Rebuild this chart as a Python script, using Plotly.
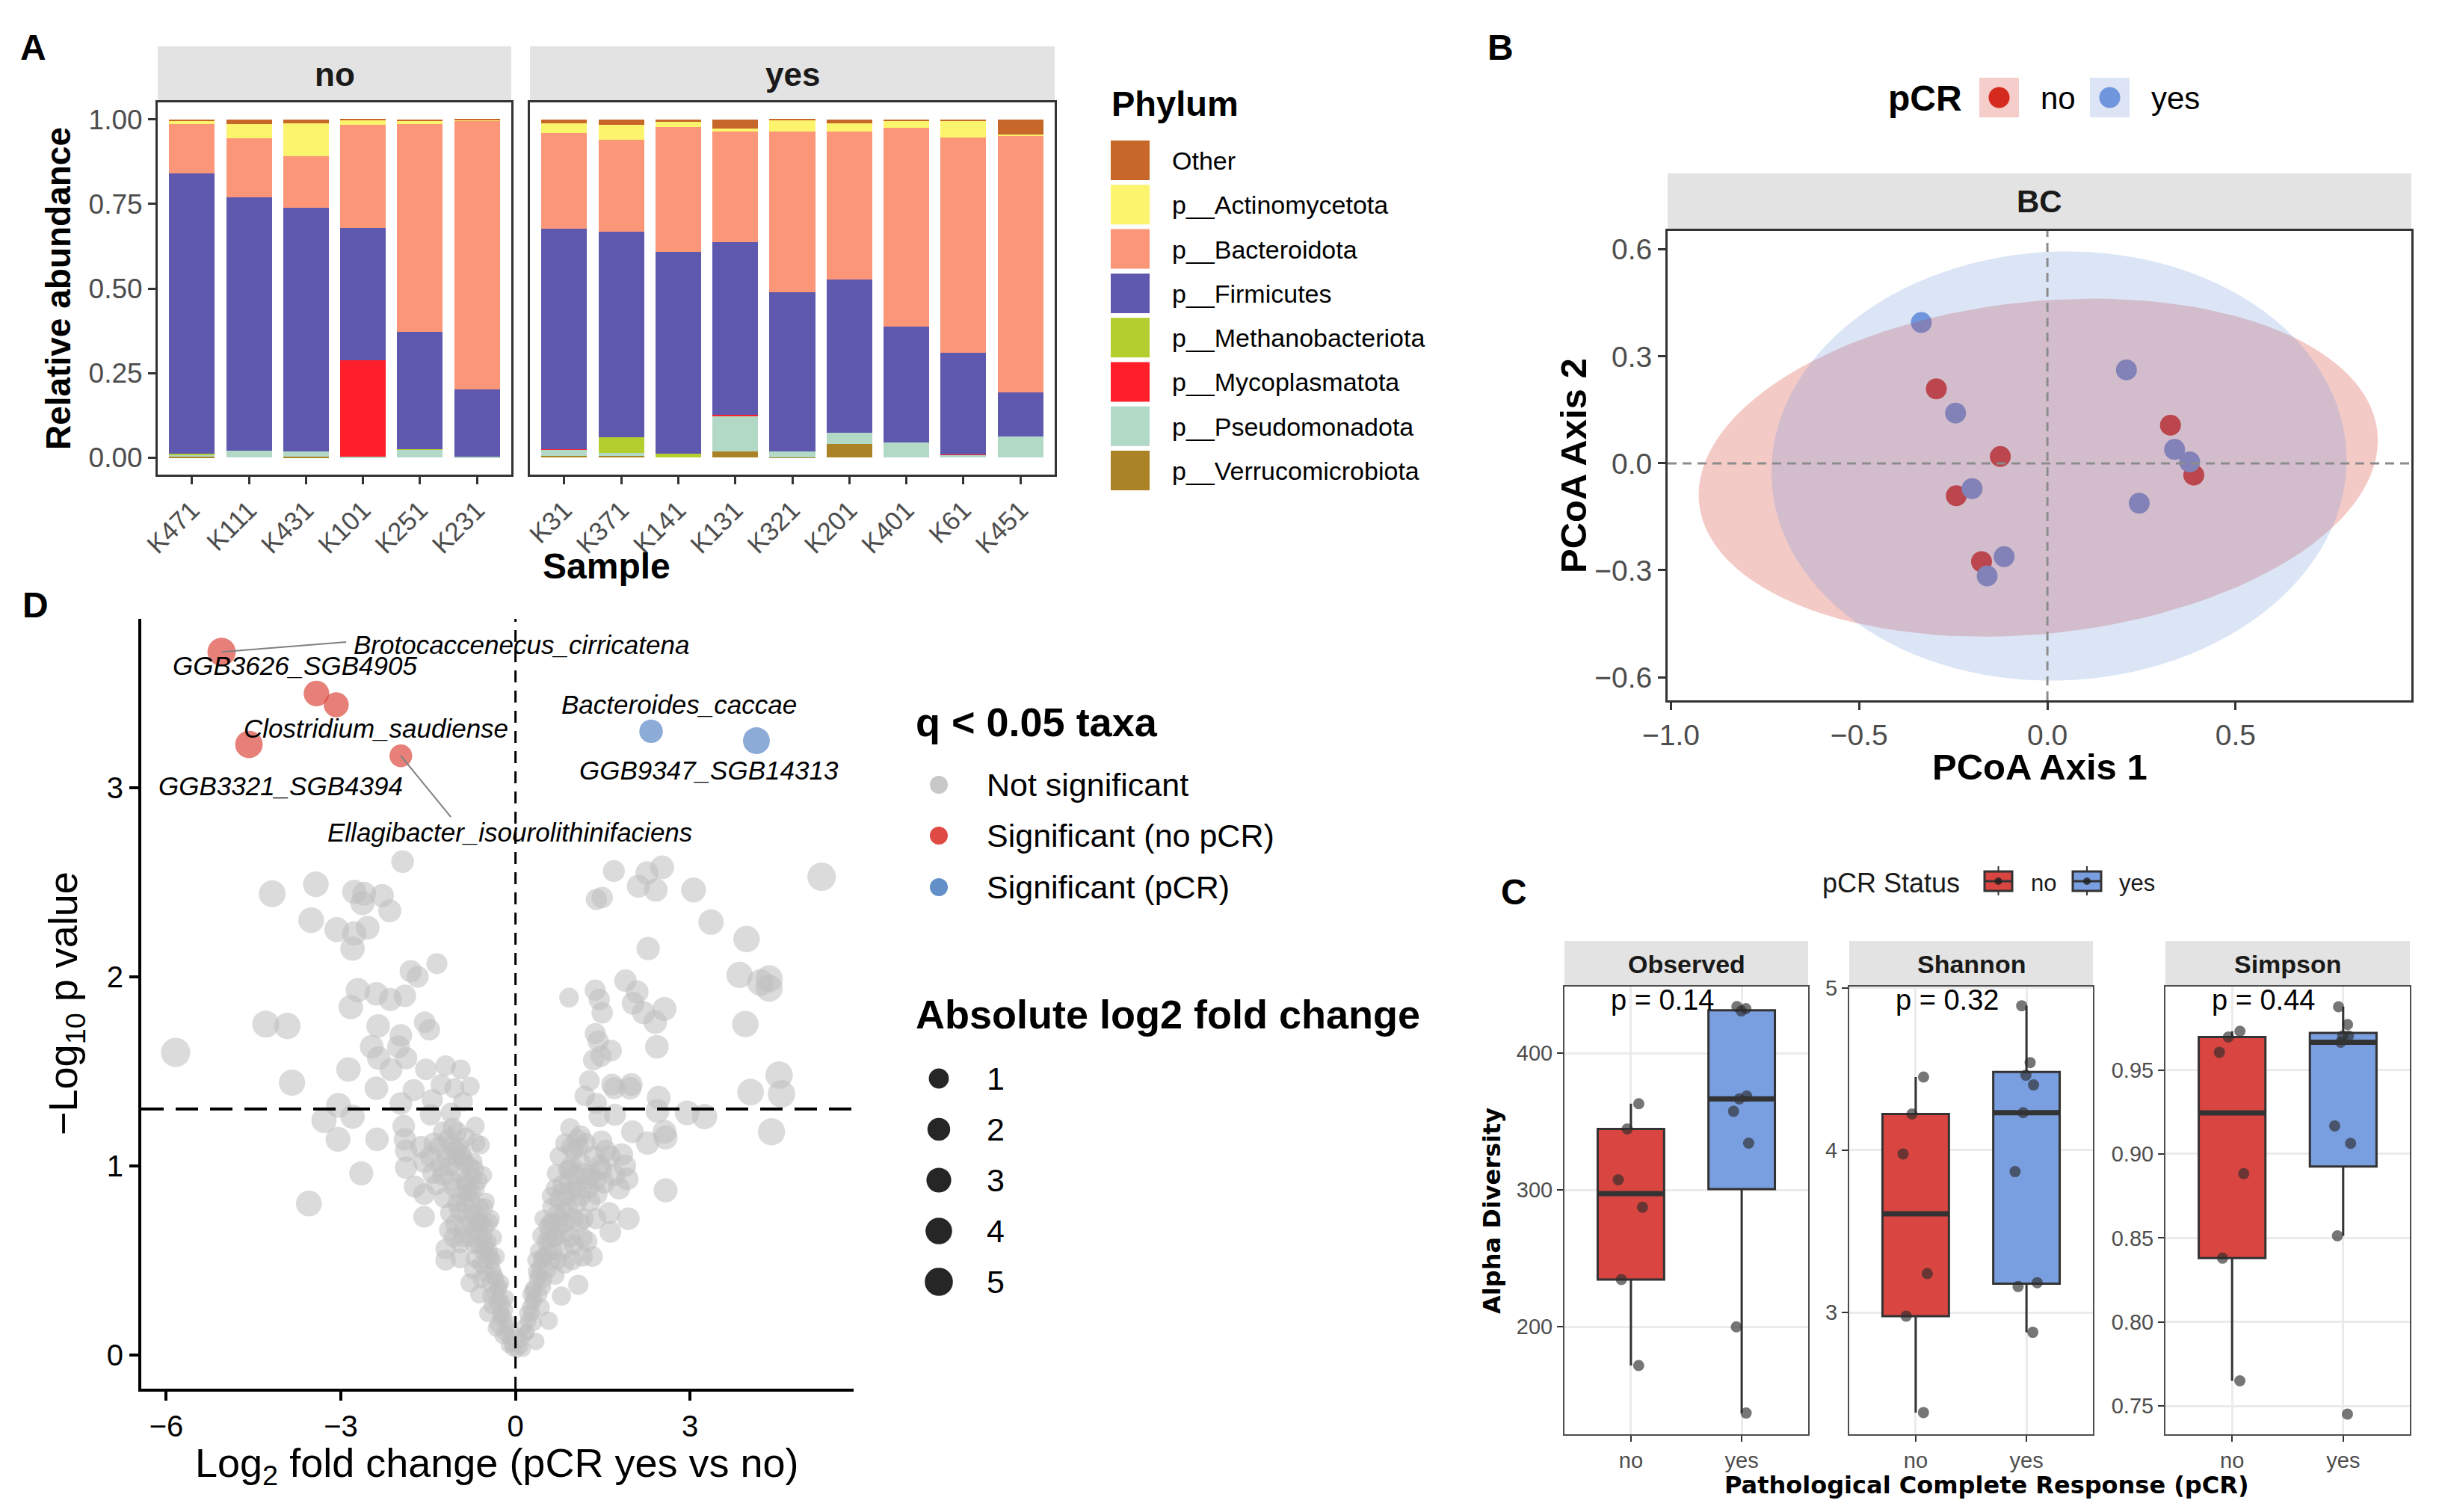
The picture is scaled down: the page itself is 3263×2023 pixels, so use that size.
import numpy as np
import plotly.graph_objects as go

W, H = 3263, 2023
SANS = "Liberation Sans, Arial, Helvetica, sans-serif"
NARROW = "Liberation Sans Narrow, Arial Narrow, Liberation Sans, sans-serif"
WIDE = "DejaVu Sans, Verdana, sans-serif"

# ---------------- Panel A: relative abundance ----------------
samples_no = ["K471", "K111", "K431", "K101", "K251", "K231"]
samples_yes = ["K31", "K371", "K141", "K131", "K321", "K201", "K401", "K61", "K451"]
phyla = ["Other", "p__Actinomycetota", "p__Bacteroidota", "p__Firmicutes",
         "p__Methanobacteriota", "p__Mycoplasmatota", "p__Pseudomonadota", "p__Verrucomicrobiota"]
phylum_colors = ["#C8672A", "#FCF46C", "#FB9678", "#5E58AE", "#B4CE30", "#FE1F2B", "#B2D8C6", "#AA8326"]

other_no = [0.005, 0.015, 0.011, 0.003, 0.006, 0.001]
actino_no = [0.010, 0.042, 0.099, 0.014, 0.008, 0.003]
bactero_no = [0.145, 0.174, 0.151, 0.303, 0.615, 0.794]
firmic_no = [0.828, 0.748, 0.720, 0.391, 0.346, 0.199]
methano_no = [0.003, 0.000, 0.000, 0.000, 0.002, 0.000]
mycopl_no = [0.000, 0.000, 0.000, 0.286, 0.000, 0.000]
pseudo_no = [0.007, 0.021, 0.017, 0.003, 0.023, 0.003]
verruco_no = [0.002, 0.000, 0.002, 0.000, 0.000, 0.000]

other_yes = [0.011, 0.017, 0.008, 0.028, 0.001, 0.011, 0.004, 0.004, 0.045]
actino_yes = [0.030, 0.044, 0.014, 0.008, 0.036, 0.025, 0.021, 0.050, 0.005]
bactero_yes = [0.282, 0.272, 0.369, 0.326, 0.473, 0.437, 0.588, 0.636, 0.758]
firmic_yes = [0.651, 0.606, 0.598, 0.511, 0.472, 0.454, 0.342, 0.300, 0.129]
methano_yes = [0.000, 0.048, 0.011, 0.000, 0.000, 0.000, 0.000, 0.000, 0.000]
mycopl_yes = [0.002, 0.000, 0.000, 0.003, 0.000, 0.000, 0.000, 0.001, 0.000]
pseudo_yes = [0.019, 0.007, 0.000, 0.105, 0.017, 0.033, 0.045, 0.009, 0.063]
verruco_yes = [0.005, 0.006, 0.000, 0.019, 0.001, 0.040, 0.000, 0.000, 0.000]

# ---------------- Panel B: PCoA ----------------
pcoa_no_x = [-0.295, -0.125, -0.242, -0.175, 0.327, 0.389]
pcoa_no_y = [0.209, 0.019, -0.091, -0.276, 0.107, -0.033]
pcoa_yes_x = [-0.335, -0.244, -0.200, -0.115, -0.160, 0.210, 0.338, 0.378, 0.244]
pcoa_yes_y = [0.395, 0.141, -0.071, -0.262, -0.316, 0.262, 0.039, 0.004, -0.112]

# ---------------- Panel C: alpha diversity ----------------
metrics = ["Observed", "Shannon", "Simpson"]
p_labels = ["p = 0.14", "p = 0.32", "p = 0.44"]
observed_no = [363, 344.6, 307.4, 287.4, 234.5, 171.7]
observed_yes = [434, 432.5, 430.8, 368.6, 366.5, 357.5, 334.2, 200, 137]
shannon_no = [4.451, 4.223, 3.977, 3.24, 2.978, 2.384]
shannon_yes = [4.89, 4.54, 4.462, 4.402, 4.231, 3.868, 3.184, 3.16, 2.878]
simpson_no = [0.973, 0.9696, 0.9605, 0.8883, 0.838, 0.765]
simpson_yes = [0.9876, 0.977, 0.9703, 0.9703, 0.9665, 0.9167, 0.9063, 0.8513, 0.7452]

# ---------------- Panel D: volcano ----------------
gray_lfc = [
    -1.94, -4.18, -3.43, -2.77, -2.60, -2.63, -2.29, -2.16, -3.51, -3.07, -2.54, -2.77, -2.80, -1.35, -1.80,
    -1.68, -2.71, -2.39, -2.15, -1.90, -2.83, -4.29, -3.92, -5.84, -2.36, -1.56, -1.48, -1.97, -2.47, -2.01,
    -2.35, -2.14, -1.88, -2.87, -3.84, -2.39, -1.54, -1.20, -0.94, -1.75, -1.28, -1.05, -0.78, -1.97, -3.04,
    -1.43, -0.90, -3.29, -2.80, -1.46, -1.11, -0.69, -1.92,
    1.69, 2.26, 2.52, 2.11, 2.41, 3.06, 1.39, 1.49, 5.26, 3.36, 3.97, 2.28, 3.85, 4.36, 4.21, 4.36, 0.92,
    1.37, 1.44, 1.49, 1.89, 2.09, 2.02, 2.20, 2.56, 2.40, 3.95, 1.37, 1.42, 1.64, 1.34, 1.47, 2.43, 1.27,
    1.66, 1.99, 1.19, 2.46, 4.53, 4.04, 4.57, 1.39, 2.44, 2.95, 3.25, 1.71, 0.94, 4.40, 2.01, 2.56, 1.70,
    1.97, 1.44,
    -3.05, -2.38, -2.65, -0.60, -1.90, -1.88, -1.88, -1.57, -1.42, -1.73, -1.57, -1.57, -1.31, -1.09, -0.91,
    -1.13, -0.95, -0.73, -0.56, -0.69, -1.04, -1.22, -0.86, -0.51, -1.04, -0.82, -0.42, -1.20, -1.20, -0.78,
    -0.38, -0.69, -0.33, -0.78, -0.51, -0.25, -0.42, -0.16, -0.47, -0.25, -0.33, -0.16, -0.07, 0.02, -0.95,
    -0.60, -0.95, -3.55,
    1.48, 1.00, 2.27, 2.58, 1.83, 1.88, 1.92, 1.48, 1.52, 0.70, 0.92, 1.23, 0.61, 0.97, 1.28, 2.58, 0.48,
    0.84, 1.17, 1.61, 1.94, 1.63, 0.44, 0.84, 1.23, 0.57, 1.32, 0.35, 0.84, 1.08, 0.48, 0.79, 0.31, 0.44,
    0.31, 0.35, 0.17, 0.13, 0.57, 0.66, 1.00,
    -0.30, -0.40, -0.55, -0.65, -0.75, -0.85, -0.62, -0.48, -0.36, -0.22, -0.12, -0.28, -0.58, -0.70, -0.88,
    -1.00, -1.10, -0.80, -1.25, -0.68, -1.00, -0.85, -0.52, -0.90, -0.72, -1.12, -0.64, -1.40, -0.20, -0.10,
    0.25, 0.40, 0.55, 0.65, 0.75, 0.90, 1.05, 1.12, 0.80, 0.60, 0.45, 0.22, 0.10, 0.95, 1.10, 1.40, 1.35,
    1.20, 0.75, 0.85, 0.52, 0.68, 1.15, 0.38, 0.30, 1.02, 1.62, 0.20,
    -0.15, -0.18, -0.26, -0.32, -0.35, -0.44, -0.50, -0.46, -0.56, -0.62, -0.66, -0.72, -0.78, -0.82, -0.92,
    -0.96, -1.06, -1.14, -0.74, -0.88, -1.02, -1.18, -1.28, -1.36, -1.46, -1.62, -0.58, -0.40, -0.08, -0.05,
    -0.54, -0.70, -1.08, -1.24, -0.62, -0.30, -0.22, -0.12, -0.45, -0.98,
    0.08, 0.15, 0.20, 0.28, 0.32, 0.40, 0.46, 0.50, 0.58, 0.62, 0.70, 0.72, 0.78, 0.86, 0.88, 0.92, 1.00,
    1.05, 1.12, 1.18, 1.25, 1.30, 1.38, 1.45, 1.55, 0.68, 0.62, 0.55, 1.08, 0.95, 0.40, 0.26, 0.05, 1.70,
    1.78, 0.98, 0.72, 1.38, 0.84, 1.15,
    -0.34, -0.52, -0.68, -0.86, -1.02, -0.44, -0.60, -0.76, -0.94, -1.16, -0.28, -0.40,
    0.30, 0.48, 0.64, 0.80, 0.96, 1.12, 0.42, 0.58, 0.74, 0.90, 1.06, 0.36,
]
gray_nlp = [
    2.61, 2.44, 2.49, 2.45, 2.44, 2.39, 2.43, 2.35, 2.30, 2.25, 2.26, 2.23, 2.15, 2.07, 2.03,
    2.00, 1.93, 1.91, 1.88, 1.90, 1.84, 1.75, 1.74, 1.60, 1.74, 1.76, 1.72, 1.69, 1.63, 1.63,
    1.57, 1.51, 1.57, 1.51, 1.44, 1.41, 1.51, 1.53, 1.51, 1.40, 1.43, 1.41, 1.42, 1.33, 1.32,
    1.35, 1.34, 1.24, 1.26, 1.27, 1.28, 1.21, 1.21,
    2.56, 2.55, 2.58, 2.48, 2.46, 2.46, 2.41, 2.42, 2.53, 2.29, 2.20, 2.15, 2.01, 1.99, 1.97, 1.94, 1.89,
    1.93, 1.88, 1.81, 1.98, 1.92, 1.86, 1.81, 1.83, 1.76, 1.75, 1.70, 1.66, 1.61, 1.56, 1.58, 1.63, 1.45,
    1.43, 1.43, 1.37, 1.36, 1.48, 1.39, 1.38, 1.33, 1.29, 1.28, 1.26, 1.27, 1.20, 1.18, 1.18, 1.18, 1.41,
    1.41, 1.26,
    1.14, 1.14, 0.96, 1.11, 1.14, 1.08, 0.99, 1.02, 0.96, 0.89, 0.85, 0.73, 1.10, 1.10, 1.05,
    1.00, 0.96, 1.02, 0.95, 0.88, 0.88, 0.83, 0.80, 0.81, 0.69, 0.72, 0.72, 0.56, 0.50, 0.62,
    0.62, 0.51, 0.52, 0.38, 0.43, 0.38, 0.31, 0.30, 0.22, 0.22, 0.14, 0.11, 0.05, 0.02, 0.59,
    0.69, 0.51, 0.80,
    1.13, 1.08, 1.12, 1.15, 1.06, 1.00, 0.93, 0.98, 0.91, 0.96, 0.98, 0.93, 0.84, 0.87, 0.81, 0.87, 0.72,
    0.76, 0.72, 0.75, 0.72, 0.65, 0.63, 0.64, 0.60, 0.54, 0.52, 0.50, 0.48, 0.37, 0.40, 0.31, 0.35, 0.25,
    0.17, 0.07, 0.11, 0.03, 0.18, 0.62, 0.58,
    0.35, 0.45, 0.55, 0.65, 0.75, 0.90, 0.78, 0.60, 0.42, 0.27, 0.17, 0.30, 0.48, 0.58, 0.68,
    0.80, 0.92, 1.00, 0.95, 1.12, 1.18, 1.15, 0.68, 0.62, 0.45, 0.75, 0.92, 1.12, 0.20, 0.09,
    0.25, 0.32, 0.45, 0.55, 0.68, 0.78, 0.88, 1.02, 0.90, 0.70, 0.50, 0.18, 0.08, 0.62, 0.70, 0.85, 1.05,
    1.12, 1.05, 1.12, 0.60, 0.42, 0.52, 0.40, 0.28, 0.95, 1.05, 0.12,
    0.15, 0.24, 0.20, 0.28, 0.33, 0.38, 0.50, 0.55, 0.62, 0.58, 0.70, 0.66, 0.82, 0.86, 0.84,
    0.76, 0.62, 0.66, 0.94, 1.02, 1.05, 1.04, 1.00, 0.90, 1.05, 1.10, 0.40, 0.26, 0.12, 0.03,
    0.78, 0.98, 1.20, 1.18, 0.32, 0.16, 0.10, 0.05, 0.70, 1.10,
    0.04, 0.15, 0.22, 0.22, 0.30, 0.42, 0.36, 0.52, 0.60, 0.50, 0.62, 0.75, 0.72, 0.70, 0.84, 0.92, 0.72,
    0.80, 0.84, 0.96, 0.88, 0.95, 0.92, 1.00, 1.08, 0.88, 0.78, 0.68, 1.10, 1.10, 0.55, 0.32, 0.10, 0.95,
    0.88, 0.50, 0.50, 0.72, 0.56, 0.62,
    0.40, 0.58, 0.74, 0.92, 1.08, 0.52, 0.70, 0.86, 1.06, 1.14, 0.36, 0.50,
    0.34, 0.52, 0.70, 0.86, 1.00, 1.16, 0.46, 0.64, 0.82, 0.98, 1.14, 0.44,
]
sig_no_lfc = [-5.05, -3.42, -3.08, -4.58, -1.97]
sig_no_nlp = [3.72, 3.50, 3.44, 3.23, 3.17]
sig_yes_lfc = [2.33, 4.14]
sig_yes_nlp = [3.30, 3.25]
taxa_labels = ["Brotocaccenecus_cirricatena", "GGB3626_SGB4905", "Clostridium_saudiense",
               "GGB3321_SGB4394", "Ellagibacter_isourolithinifaciens", "Bacteroides_caccae",
               "GGB9347_SGB14313"]
taxa_label_lfc = [0.10, -3.79, -2.40, -4.03, -0.10, 2.81, 3.32]
taxa_label_nlp = [3.76, 3.646, 3.317, 3.012, 2.767, 3.442, 3.094]
p_threshold = 0.05
size_breaks = [1, 2, 3, 4, 5]


# ---------------- helpers ----------------
def PX(x):
    return x / W


def PY(y):
    return 1 - y / H


annotations = []
shapes = []


def text(x, y, s, size, color="black", family=SANS, bold=False, italic=False,
         xanchor="center", yanchor="middle", angle=0, xref="paper", yref="paper"):
    if xref == "paper":
        x = PX(x)
    if yref == "paper":
        y = PY(y)
    annotations.append(dict(
        x=x, y=y, xref=xref, yref=yref, text=s, showarrow=False,
        xanchor=xanchor, yanchor=yanchor, textangle=angle,
        font=dict(size=size, color=color, family=family,
                  weight="bold" if bold else "normal",
                  style="italic" if italic else "normal")))


def rect(x0, y0, x1, y1, fill, line_color=None, line_width=0, layer="below"):
    shapes.append(dict(type="rect", xref="paper", yref="paper",
                       x0=PX(x0), x1=PX(x1), y0=PY(y1), y1=PY(y0),
                       fillcolor=fill, layer=layer,
                       line=dict(color=line_color or fill, width=line_width)))


def circle(cx, cy, d, fill, layer="above"):
    shapes.append(dict(type="circle", xref="paper", yref="paper",
                       x0=PX(cx - d / 2), x1=PX(cx + d / 2), y0=PY(cy + d / 2), y1=PY(cy - d / 2),
                       fillcolor=fill, line=dict(width=0), layer=layer))


def pline(x0, y0, x1, y1, color, width):
    shapes.append(dict(type="line", xref="paper", yref="paper",
                       x0=PX(x0), x1=PX(x1), y0=PY(y0), y1=PY(y1),
                       line=dict(color=color, width=width), layer="above"))


def xdom(a, b):
    return [PX(a), PX(b)]


def ydom(top, bottom):
    return [PY(bottom), PY(top)]


fig = go.Figure()
layout = dict(width=W, height=H, margin=dict(l=0, r=0, t=0, b=0, pad=0), autosize=False,
              paper_bgcolor="white", plot_bgcolor="white", showlegend=False,
              barmode="stack", boxmode="overlay", font=dict(family=SANS))

# ================= Panel A =================
stack_order_no = [verruco_no, pseudo_no, mycopl_no, methano_no, firmic_no, bactero_no, actino_no, other_no]
stack_order_yes = [verruco_yes, pseudo_yes, mycopl_yes, methano_yes, firmic_yes, bactero_yes, actino_yes, other_yes]
stack_idx = [7, 6, 5, 4, 3, 2, 1, 0]
for vals, k in zip(stack_order_no, stack_idx):
    fig.add_trace(go.Bar(x=samples_no, y=vals, width=0.8, name=phyla[k],
                         marker=dict(color=phylum_colors[k], line=dict(width=0)),
                         xaxis="x", yaxis="y"))
for vals, k in zip(stack_order_yes, stack_idx):
    fig.add_trace(go.Bar(x=samples_yes, y=vals, width=0.8, name=phyla[k],
                         marker=dict(color=phylum_colors[k], line=dict(width=0)),
                         xaxis="x2", yaxis="y2"))

A_top, A_bot = 137, 635
axA = dict(type="category", tickangle=-45, ticks="outside", ticklen=10, tickwidth=3,
           tickcolor="#333333", tickfont=dict(size=35, color="#4D4D4D"),
           showline=True, mirror=True, linecolor="#333333", linewidth=3,
           showgrid=False, zeroline=False, automargin=False)
layout["xaxis"] = dict(axA, domain=xdom(211, 684), anchor="y", categoryorder="array",
                       categoryarray=samples_no, range=[-0.6, len(samples_no) - 0.4])
layout["xaxis2"] = dict(axA, domain=xdom(709, 1411), anchor="y2", categoryorder="array",
                        categoryarray=samples_yes, range=[-0.6, len(samples_yes) - 0.4])
ayA = dict(range=[-0.05, 1.05], showline=True, mirror=True, linecolor="#333333", linewidth=3,
           showgrid=False, zeroline=False, domain=ydom(A_top, A_bot), automargin=False)
layout["yaxis"] = dict(ayA, anchor="x", tickvals=[0, 0.25, 0.5, 0.75, 1.0],
                       ticktext=["0.00", "0.25", "0.50", "0.75", "1.00"], ticks="outside",
                       ticklen=10, tickwidth=3, tickcolor="#333333",
                       tickfont=dict(size=37, color="#4D4D4D"))
layout["yaxis2"] = dict(ayA, anchor="x2", showticklabels=False, ticks="")

rect(211, 62, 684, A_top, "#E3E3E3")
rect(709, 62, 1411, A_top, "#E3E3E3")
text((211 + 684) / 2, 100, "no", 44, color="#1A1A1A", bold=True)
text((709 + 1411) / 2, 100, "yes", 44, color="#1A1A1A", bold=True)
text(78, 386, "Relative abundance", 46, bold=True, angle=-90)
text(811, 757, "Sample", 48, bold=True)
text(44, 63, "A", 48, bold=True)

# Phylum legend
text(1485, 139, "Phylum", 47, bold=True, xanchor="left")
for i, (name, col) in enumerate(zip(phyla, phylum_colors)):
    top = 188 + i * 59.3
    rect(1486, top, 1538, top + 53, col)
    text(1566, top + 27, name, 34, xanchor="left")


# ================= Panel B =================
def cov_trob(X, nu=5, maxit=25, tol=0.01):
    n, p = X.shape
    wt = np.ones(n)
    loc = X.mean(axis=0)
    w = np.sqrt(wt)
    Xc = X - loc
    for _ in range(maxit):
        w0 = w
        Xc = X - loc
        A = np.sqrt(w / w.sum())[:, None] * Xc
        _, d, Vt = np.linalg.svd(A, full_matrices=False)
        wX = Xc @ Vt.T @ np.diag(1 / d)
        Q = (wX ** 2).sum(axis=1)
        w = (wt * (nu + p)) / (nu + Q)
        loc = (w[:, None] * X).sum(axis=0) / w.sum()
        if np.all(np.abs(w - w0) < tol):
            break
    S = (np.sqrt(w)[:, None] * Xc)
    return S.T @ S / wt.sum(), loc


def ellipse(xs, ys, level=0.95, segments=120):
    X = np.column_stack([xs, ys])
    shape, center = cov_trob(X)
    dfd = len(xs) - 1
    qf = dfd / 2 * ((1 - level) ** (-2 / dfd) - 1)
    radius = np.sqrt(2 * qf)
    ang = np.linspace(0, 2 * np.pi, segments + 1)
    circ = np.column_stack([np.cos(ang), np.sin(ang)])
    U = np.linalg.cholesky(shape).T
    e = center + radius * circ @ U
    return e[:, 0], e[:, 1]


red_b, blue_b = "#D52B1E", "#6F96DC"
fig.add_trace(go.Scatter(x=pcoa_no_x, y=pcoa_no_y, mode="markers",
                         marker=dict(color=red_b, size=28, line=dict(width=0)), xaxis="x3", yaxis="y3"))
fig.add_trace(go.Scatter(x=pcoa_yes_x, y=pcoa_yes_y, mode="markers",
                         marker=dict(color=blue_b, size=28, line=dict(width=0)), xaxis="x3", yaxis="y3"))
ex, ey = ellipse(pcoa_no_x, pcoa_no_y)
fig.add_trace(go.Scatter(x=ex, y=ey, mode="lines", fill="toself", line=dict(width=0),
                         fillcolor="rgba(213,43,30,0.25)", xaxis="x3", yaxis="y3", hoverinfo="skip"))
ex, ey = ellipse(pcoa_yes_x, pcoa_yes_y)
fig.add_trace(go.Scatter(x=ex, y=ey, mode="lines", fill="toself", line=dict(width=0),
                         fillcolor="rgba(111,150,220,0.25)", xaxis="x3", yaxis="y3", hoverinfo="skip"))

B_l, B_r, B_t, B_b = 2231, 3226, 309, 937
common_B = dict(showline=True, mirror=True, linecolor="#333333", linewidth=3, showgrid=False,
                zeroline=False, ticks="outside", ticklen=10, tickwidth=3, tickcolor="#333333",
                tickfont=dict(size=39, color="#4D4D4D", family=NARROW), automargin=False)
layout["xaxis3"] = dict(common_B, domain=xdom(B_l, B_r), anchor="y3", range=[-1.009, 0.967],
                        tickvals=[-1, -0.5, 0, 0.5], ticktext=["\u22121.0", "\u22120.5", "0.0", "0.5"])
layout["yaxis3"] = dict(common_B, domain=ydom(B_t, B_b), anchor="x3", range=[-0.665, 0.652],
                        tickvals=[-0.6, -0.3, 0, 0.3, 0.6],
                        ticktext=["\u22120.6", "\u22120.3", "0.0", "0.3", "0.6"])
shapes.append(dict(type="line", xref="x3", yref="y3", x0=0, x1=0, y0=-0.665, y1=0.652,
                   line=dict(color="#8C8C8C", width=3, dash="12px,8px"), layer="above"))
shapes.append(dict(type="line", xref="x3", yref="y3", x0=-1.009, x1=0.967, y0=0, y1=0,
                   line=dict(color="#8C8C8C", width=3, dash="12px,8px"), layer="above"))
rect(B_l, 232, B_r, B_t, "#E3E3E3")
text((B_l + B_r) / 2, 270, "BC", 42, color="#1A1A1A", bold=True, family=NARROW)
text(2729, 1026, "PCoA Axis 1", 49, bold=True, family=NARROW)
text(2105, 623, "PCoA Axis 2", 49, bold=True, family=NARROW, angle=-90)
text(2007, 63, "B", 48, bold=True)
# legend
text(2524, 131, "pCR", 48, bold=True, xanchor="left", family=NARROW)
rect(2648, 104, 2701, 157, "#F5CDCB")
circle(2674.5, 130.5, 28, red_b)
text(2728, 131, "no", 42, xanchor="left", family=NARROW)
rect(2796, 104, 2849, 157, "#DCE4F6")
circle(2822.5, 130.5, 28, blue_b)
text(2876, 131, "yes", 42, xanchor="left", family=NARROW)

# ================= Panel C =================
red_c, blue_c = "#D94541", "#7A9FE0"
C_t, C_b = 1320, 1919
c_panels = [(2093, 2419), (2474, 2800), (2897, 3224)]
c_data = [(observed_no, observed_yes), (shannon_no, shannon_yes), (simpson_no, simpson_yes)]
c_ranges = [[121.5, 448.6], [2.25, 5.008], [0.7332, 0.9996]]
c_ticks = [([200, 300, 400], ["200", "300", "400"]),
           ([3, 4, 5], ["3", "4", "5"]),
           ([0.75, 0.80, 0.85, 0.90, 0.95], ["0.75", "0.80", "0.85", "0.90", "0.95"])]
for i, ((l, r), (dno, dyes), yr, (tv, tt)) in enumerate(zip(c_panels, c_data, c_ranges, c_ticks)):
    k = i + 4
    for gi, (grp, vals, col) in enumerate((("no", dno, red_c), ("yes", dyes, blue_c))):
        fig.add_trace(go.Box(x=[grp] * len(vals), y=vals, width=0.6, boxpoints="all", jitter=0.45,
                             pointpos=0, fillcolor=col, whiskerwidth=0, quartilemethod="linear",
                             line=dict(color="#333333", width=3),
                             marker=dict(color="rgba(45,45,45,0.65)", size=15, line=dict(width=0)),
                             xaxis=f"x{k}", yaxis=f"y{k}"))
        med = float(np.median(vals))
        shapes.append(dict(type="line", xref=f"x{k}", yref=f"y{k}", x0=gi - 0.3, x1=gi + 0.3,
                           y0=med, y1=med, line=dict(color="#333333", width=7), layer="above"))
    layout[f"xaxis{k}"] = dict(domain=xdom(l, r), anchor=f"y{k}", type="category",
                               categoryorder="array", categoryarray=["no", "yes"], range=[-0.6, 1.6],
                               showline=True, mirror=True, linecolor="#4D4D4D", linewidth=2,
                               showgrid=True, gridcolor="#EBEBEB", gridwidth=3, zeroline=False,
                               ticks="outside", ticklen=8, tickwidth=2, tickcolor="#333333",
                               tickfont=dict(size=29, color="#4D4D4D", family=NARROW), automargin=False)
    layout[f"yaxis{k}"] = dict(domain=ydom(C_t, C_b), anchor=f"x{k}", range=yr,
                               tickvals=tv, ticktext=tt,
                               showline=True, mirror=True, linecolor="#4D4D4D", linewidth=2,
                               showgrid=True, gridcolor="#EBEBEB", gridwidth=3, zeroline=False,
                               ticks="outside", ticklen=8, tickwidth=2, tickcolor="#333333",
                               tickfont=dict(size=29, color="#4D4D4D", family=NARROW), automargin=False)
    rect(l, 1259, r, C_t, "#E3E3E3")
    text((l + r) / 2, 1290, metrics[i], 34, color="#1A1A1A", bold=True, family=NARROW)
    text(l + 131, 1338, p_labels[i], 38, family=NARROW)
text(1996, 1620, "Alpha Diversity", 32, bold=True, family=WIDE, angle=-90)
text(2658, 1987, "Pathological Complete Response (pCR)", 32, bold=True, family=WIDE)
text(2025, 1193, "C", 48, bold=True)
# legend
text(2436, 1181, "pCR Status", 36, color="#1A1A1A", xanchor="left", family=NARROW)
for (x0, x1, col, lab, lx) in ((2655, 2692, red_c, "no", 2715), (2773, 2811, blue_c, "yes", 2833)):
    cx = (x0 + x1) / 2
    pline(cx, 1159, cx, 1198, "#333333", 2)
    rect(x0, 1166, x1, 1192, col, "#333333", 3, layer="above")
    pline(x0, 1179, x1, 1179, "#333333", 3)
    circle(cx, 1179, 10, "rgba(30,30,30,0.8)")
    text(lx, 1181, lab, 31, color="#1A1A1A", xanchor="left", family=NARROW)


# ================= Panel D =================
def point_size(v):
    return 18.0 + 8.8 * np.sqrt(np.abs(np.asarray(v, dtype=float)))


fig.add_trace(go.Scatter(x=gray_lfc, y=gray_nlp, mode="markers",
                         marker=dict(color="rgba(190,190,190,0.8)", size=point_size(gray_lfc),
                                     line=dict(width=0)), xaxis="x7", yaxis="y7"))
fig.add_trace(go.Scatter(x=sig_no_lfc, y=sig_no_nlp, mode="markers",
                         marker=dict(color="#DC4A40", size=point_size(sig_no_lfc),
                                     line=dict(width=0)), xaxis="x7", yaxis="y7"))
fig.add_trace(go.Scatter(x=sig_yes_lfc, y=sig_yes_nlp, mode="markers",
                         marker=dict(color="#5B87C5", size=point_size(sig_yes_lfc),
                                     line=dict(width=0)), xaxis="x7", yaxis="y7"))
D_l, D_r, D_t, D_b = 189, 1142, 828, 1858
xr_D, yr_D = [-6.43, 5.81], [-0.18, 3.895]
axD = dict(showline=True, linecolor="black", linewidth=4, showgrid=False, zeroline=False,
           ticks="outside", ticklen=12, tickwidth=4, tickcolor="black",
           tickfont=dict(size=40, color="black"), automargin=False)
layout["xaxis7"] = dict(axD, domain=xdom(D_l, D_r), anchor="y7", range=xr_D,
                        tickvals=[-6, -3, 0, 3], ticktext=["\u22126", "\u22123", "0", "3"])
layout["yaxis7"] = dict(axD, domain=ydom(D_t, D_b), anchor="x7", range=yr_D,
                        tickvals=[0, 1, 2, 3], ticktext=["0", "1", "2", "3"])
thr = -np.log10(p_threshold)
shapes.append(dict(type="line", xref="x7", yref="y7", x0=xr_D[0], x1=xr_D[1], y0=thr, y1=thr,
                   line=dict(color="black", width=4, dash="30px,16px"), layer="above"))
shapes.append(dict(type="line", xref="x7", yref="y7", x0=0, x1=0, y0=yr_D[0], y1=yr_D[1],
                   line=dict(color="black", width=3, dash="16px,11px"), layer="above"))
shapes.append(dict(type="line", xref="x7", yref="y7", x0=sig_no_lfc[0], y0=sig_no_nlp[0], x1=-2.91, y1=3.772,
                   line=dict(color="#808080", width=2), layer="above"))
shapes.append(dict(type="line", xref="x7", yref="y7", x0=sig_no_lfc[4], y0=sig_no_nlp[4], x1=-1.11, y1=2.846,
                   line=dict(color="#808080", width=2), layer="above"))
for lab, lx, ly in zip(taxa_labels, taxa_label_lfc, taxa_label_nlp):
    text(lx, ly, lab, 35, italic=True, xref="x7", yref="y7")
text(664, 1961, "Log<sub>2</sub> fold change (pCR yes vs no)", 54)
text(88, 1343, "\u2212Log<sub>10</sub> p value", 54, angle=-90)
text(47, 810, "D", 48, bold=True)
# legends
text(1223, 966, "q < 0.05 taxa", 54, bold=True, xanchor="left")
for yy, col, lab in ((1050, "#C8C8C8", "Not significant"), (1118, "#E04A44", "Significant (no pCR)"),
                     (1187, "#628FC8", "Significant (pCR)")):
    circle(1256, yy, 24, col)
    text(1318, yy, lab, 43, xanchor="left")
text(1223, 1357, "Absolute log2 fold change", 54, bold=True, xanchor="left")
for j, b in enumerate(size_breaks):
    yy = 1443 + j * 68
    circle(1256, yy, float(point_size(b)), "#262626")
    text(1318, yy, str(b), 43, xanchor="left")

layout["annotations"] = annotations
layout["shapes"] = shapes
fig.update_layout(**layout)
fig.write_html("out.html", config={"displayModeBar": False},
               post_script="document.body.style.margin='0px';")
